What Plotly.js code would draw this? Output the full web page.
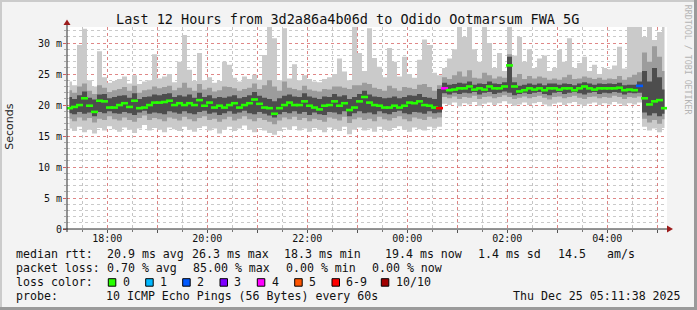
<!DOCTYPE html>
<html><head><meta charset="utf-8">
<script src="https://cdn.plot.ly/plotly-3.0.1.min.js"></script>
<style>html,body{margin:0;padding:0;background:#f3f3f3}</style>
</head><body><div id="chart" style="width:697px;height:310px"></div>
<script>
// ---- data (ms), one column every 6 minutes starting 17:14:38 ----
const startTime = Date.UTC(2025, 11, 24, 17, 14, 38);
const stepMinutes = 6;
const median = [
19.5,19.7,20.0,21.1,19.9,18.9,20.7,20.6,19.6,19.6,
20.0,20.3,19.7,20.7,19.5,19.6,20.0,20.4,20.4,20.5,
20.7,20.0,20.3,20.0,20.3,20.0,20.8,19.9,20.4,19.6,
19.9,19.6,20.0,20.3,19.6,20.0,20.3,20.9,20.2,19.6,
19.5,18.6,19.5,20.0,20.4,20.0,20.0,20.6,19.9,19.6,
19.3,19.9,20.0,20.6,19.9,20.3,19.2,19.6,20.6,21.3,
20.4,20.0,19.9,19.6,19.6,19.9,19.6,19.9,20.4,20.3,
20.6,20.0,19.9,19.6,19.5,22.7,22.4,22.5,22.7,22.7,
23.0,22.5,22.7,22.5,23.0,22.7,22.7,23.0,26.4,23.0,
22.2,22.4,22.7,22.5,22.7,22.4,22.7,22.7,22.5,22.7,
22.7,22.4,22.7,23.0,22.7,22.5,22.7,22.7,22.7,22.7,
22.8,22.4,22.5,22.4,23.1,21.1,20.1,20.6,20.8,19.5];
const lostPings = [
0,0,0,0,0,0,0,0,0,0, 0,0,0,0,0,0,0,0,0,0,
0,0,0,0,0,0,0,0,0,0, 0,0,0,0,0,0,0,0,0,0,
0,0,0,0,0,0,0,0,0,0, 0,0,0,0,0,0,0,0,0,0,
0,0,0,0,0,0,0,0,0,0, 0,0,0,0,7,4,0,0,0,0,
0,0,0,0,0,0,0,0,0,0, 0,0,0,0,0,0,0,0,0,0,
0,0,0,0,0,0,0,0,0,0, 0,0,0,0,2,0,0,0,0,0];
const pingMin = [
16.2,15.8,16.5,15.6,16.0,15.4,16.3,15.9,16.6,16.1,
15.7,16.4,16.0,15.5,16.2,16.8,15.9,16.3,16.0,15.6,
16.4,16.1,15.8,16.5,16.0,15.7,16.3,16.6,15.9,16.2,
15.4,16.0,16.5,15.8,16.2,16.7,16.0,15.6,16.3,15.9,
15.5,15.2,15.8,16.4,16.0,16.6,15.9,16.2,15.7,16.3,
16.0,15.6,16.4,16.1,15.8,16.5,15.3,16.0,16.4,15.9,
16.2,15.7,16.5,16.0,15.8,16.3,16.6,16.0,15.7,16.4,
16.1,15.9,16.5,16.2,16.5,20.2,20.0,20.4,19.8,20.3,
20.1,20.5,19.9,20.2,20.4,20.0,20.3,20.6,20.2,19.9,
20.1,20.4,20.0,20.3,20.5,20.1,19.8,20.2,20.4,20.0,
20.3,20.5,20.1,19.9,20.2,20.4,20.0,20.3,20.1,20.5,
20.2,19.9,20.3,20.1,20.4,16.5,15.9,16.2,15.6,16.3];
const pingLow = [
17.8,17.4,18.0,17.5,17.9,17.2,17.8,17.6,18.2,17.7,
17.5,18.0,17.6,17.3,17.9,18.3,17.6,17.9,17.7,17.4,
18.0,17.8,17.5,18.1,17.7,17.4,17.9,18.2,17.6,17.8,
17.3,17.7,18.1,17.5,17.8,18.2,17.7,17.4,17.9,17.6,
17.3,16.9,17.5,18.0,17.7,18.1,17.6,17.9,17.4,17.8,
17.6,17.3,18.0,17.8,17.5,18.1,17.1,17.7,18.0,17.6,
17.8,17.4,18.1,17.7,17.5,17.9,18.2,17.7,17.4,18.0,
17.8,17.6,18.1,17.8,18.0,21.3,21.1,21.4,21.0,21.3,
21.2,21.5,21.0,21.3,21.4,21.1,21.3,21.6,21.3,21.0,
21.2,21.4,21.1,21.3,21.5,21.2,20.9,21.3,21.4,21.1,
21.3,21.5,21.2,21.0,21.3,21.4,21.1,21.3,21.2,21.5,
21.3,21.0,21.3,21.2,21.4,17.8,17.2,17.6,17.0,17.7];
const pingInnerLow = [
18.7,18.5,18.9,18.6,18.8,18.2,18.9,18.7,19.0,18.7,
18.6,18.9,18.7,18.4,18.8,19.1,18.6,18.8,18.7,18.5,
19.0,18.8,18.6,19.0,18.7,18.5,18.9,19.1,18.6,18.8,
18.4,18.7,19.0,18.6,18.8,19.1,18.7,18.5,18.9,18.6,
18.3,18.0,18.5,18.9,18.7,19.0,18.6,18.9,18.4,18.8,
18.5,18.4,18.9,18.8,18.5,19.0,18.2,18.7,19.0,18.7,
18.8,18.5,19.0,18.7,18.5,18.9,19.1,18.7,18.5,18.9,
18.8,18.6,19.0,18.7,18.8,21.9,21.7,22.0,21.8,22.0,
21.9,22.1,21.7,22.0,22.1,21.8,22.0,22.2,22.0,21.6,
21.8,22.0,21.8,22.0,22.1,21.8,21.6,22.0,22.1,21.8,
22.0,22.1,21.9,21.7,22.0,22.1,21.8,22.0,21.9,22.1,
22.0,21.7,22.0,21.9,22.0,18.8,18.3,18.7,18.2,18.6];
const pingInnerHigh = [
21.3,21.0,21.6,22.2,21.2,20.9,21.7,21.8,21.1,21.3,
21.5,21.6,21.2,21.9,21.0,21.3,21.4,21.7,21.6,21.8,
21.9,21.3,21.6,21.4,21.7,21.2,22.0,21.3,21.6,21.1,
21.3,21.2,21.4,21.6,21.1,21.3,21.6,22.1,21.5,21.2,
21.0,20.6,21.1,21.5,21.7,21.4,21.3,21.9,21.4,21.2,
21.0,21.4,21.3,21.8,21.4,21.6,21.0,21.3,21.8,22.3,
21.7,21.4,21.3,21.1,21.2,21.4,21.1,21.3,21.6,21.5,
21.8,21.3,21.2,21.0,22.6,23.6,23.3,23.4,23.6,23.5,
23.8,23.3,23.5,23.4,23.8,23.5,23.4,23.7,27.8,23.7,
23.1,23.3,23.5,23.3,23.5,23.2,23.5,23.5,23.3,23.5,
23.4,23.2,23.5,23.7,23.5,23.3,23.5,23.4,23.5,23.4,
23.6,23.2,23.3,23.3,23.8,25.5,23.8,26.0,24.5,22.5];
const pingHigh = [
22.4,22.0,23.0,23.5,22.3,21.8,23.2,22.8,22.1,22.4,
22.6,22.9,22.3,23.1,22.0,22.4,22.5,23.0,22.7,22.9,
23.1,22.4,22.8,23.6,22.8,22.3,23.4,22.5,22.8,22.2,
22.4,23.0,22.9,22.7,22.3,22.6,22.8,23.5,22.6,23.2,
24.0,23.0,22.3,23.8,22.8,22.6,22.4,23.1,22.5,22.3,
22.2,22.6,22.5,23.0,23.0,22.8,22.6,23.2,23.2,23.6,
23.4,22.8,22.6,22.3,23.1,22.7,22.3,22.9,22.8,22.6,
23.3,23.4,22.9,22.3,23.2,24.5,24.2,24.8,25.4,24.6,
25.6,24.4,24.3,25.2,24.8,24.3,24.6,24.4,28.2,24.5,
25.0,24.2,24.7,24.3,24.6,24.4,24.1,24.3,24.1,24.5,
24.9,24.2,24.3,24.6,24.4,24.2,24.4,24.1,24.3,24.2,
24.7,24.1,24.5,24.9,25.3,28.5,27.0,29.5,27.8,25.5];
const pingMax = [
23.8,23.2,29.7,32.3,24.0,23.0,28.7,24.5,23.6,23.9,
24.2,24.6,23.5,24.8,23.4,23.8,24.0,28.2,24.3,24.6,
25.0,23.7,27.0,31.3,25.7,23.9,28.4,24.0,24.5,23.6,
23.9,27.0,26.5,24.4,23.8,24.6,24.2,24.9,24.1,28.1,
32.6,30.8,24.0,32.4,24.3,26.6,24.0,24.8,24.2,23.8,
23.7,24.2,24.5,25.0,27.5,25.4,24.0,32.6,28.4,25.5,
32.4,27.6,26.2,24.5,29.2,27.0,24.6,27.8,25.0,24.4,
27.3,30.6,29.7,25.2,24.8,26.0,27.5,29.0,32.6,31.0,
32.6,29.0,27.0,32.6,30.0,26.0,28.4,25.5,32.6,28.0,
31.0,27.0,29.0,26.0,27.5,28.0,25.5,26.0,28.9,27.0,
30.8,26.0,26.8,27.8,25.5,26.5,25.0,26.0,25.8,26.4,
29.4,25.9,32.6,32.6,32.6,31.0,32.6,30.5,31.8,32.6];

const yTickVals = [0,5,10,15,20,25,30];
const yTickText = ['0','5 m','10 m','15 m','20 m','25 m','30 m'];
const hourTicks = ['2025-12-24 18:00','2025-12-24 19:00','2025-12-24 20:00','2025-12-24 21:00',
  '2025-12-24 22:00','2025-12-24 23:00','2025-12-25 00:00','2025-12-25 01:00',
  '2025-12-25 02:00','2025-12-25 03:00','2025-12-25 04:00','2025-12-25 05:00'];
const hourLabels = ['18:00','','20:00','','22:00','','00:00','','02:00','','04:00',''];
const lossLabels = ['0','1','2','3','4','5','6-9','10/10'];
const lossPalette = ['#26ff00','#00b8ff','#0059ff','#7e00ff','#ff00ff','#ff5500','#ff0000','#a10000'];

// ---- helpers ----
function fmt(ms){const d=new Date(ms);const p=n=>String(n).padStart(2,'0');
  return d.getUTCFullYear()+'-'+p(d.getUTCMonth()+1)+'-'+p(d.getUTCDate())+' '+p(d.getUTCHours())+':'+p(d.getUTCMinutes())+':'+p(d.getUTCSeconds());}
const times = median.map((_,i)=>fmt(startTime + i*stepMinutes*60000));
function lossIndex(n){ if(n<=5) return n; if(n<10) return 6; return 7; }
const medColors = lostPings.map(n=>lossPalette[lossIndex(n)]);

const PX = x => (x-67)/600;
const PY = y => (229-y)/202;

function band(lo, hi, color){
  return [
    {x:times, y:lo, type:'scatter', mode:'lines', line:{width:0, shape:'hvh'}, hoverinfo:'skip'},
    {x:times, y:hi, type:'scatter', mode:'lines', line:{width:0, shape:'hvh'}, fill:'tonexty', fillcolor:color, hoverinfo:'skip'}
  ];
}
const traces = [].concat(
  band(pingMin, pingMax, '#cacaca'),
  band(pingLow, pingHigh, '#9c9c9c'),
  band(pingInnerLow, pingInnerHigh, '#4d4d4d'),
  [{x:times, y:median, type:'scatter', mode:'markers',
    marker:{symbol:'line-ew', size:5, line:{width:2.6, color:medColors}}, hoverinfo:'skip'}]
);

const mono = 'DejaVu Sans Mono';
const ann = [];
function txt(text, x, y, size, extra){
  ann.push(Object.assign({text:text, xref:'paper', yref:'paper', x:PX(x), y:PY(y),
    xanchor:'left', yanchor:'middle', showarrow:false, borderpad:0, borderwidth:0,
    font:{family:mono, size:size||11.6, color:'#111'}}, extra||{}));
}
// title
txt('Last 12 Hours from 3d2a86a4b06d to Odido Ootmarsum FWA 5G', 347.8, 19, 13.5, {xanchor:'center'});
// y title
ann.push({text:'Seconds', xref:'paper', yref:'paper', x:PX(10), y:PY(126.7), xanchor:'center', yanchor:'middle',
  textangle:-90, showarrow:false, borderpad:0, borderwidth:0, font:{family:'DejaVu Sans', size:11, color:'#222'}});
// watermark
ann.push({text:'RRDTOOL / TOBI OETIKER', xref:'paper', yref:'paper', x:PX(688.3), y:PY(60), xanchor:'center', yanchor:'middle',
  textangle:90, showarrow:false, borderpad:0, borderwidth:0, font:{family:mono, size:8.3, color:'#b4b4b4'}});
// legend rows
const r1=254, r2=268.3, r3=282.3, r4=296.3;
txt('median rtt:',15.5,r1); txt('20.9 ms avg',106.5,r1); txt('26.3 ms max',192,r1);
txt('18.3 ms min',283.5,r1); txt('19.4 ms now',384.5,r1); txt('1.4 ms sd',478,r1);
txt('14.5',557.5,r1); txt('am/s',606.5,r1);
txt('packet loss:',15.5,r2); txt('0.70 % avg',106.5,r2); txt('85.00 % max',192.5,r2);
txt('0.00 % min',285.5,r2); txt('0.00 % now',372,r2);
txt('loss color:',15.5,r3);
const boxX = [108.3,145.7,182.7,220,257.3,294.7,332,381.3];
const shapes = [];
lossLabels.forEach((lab,i)=>{
  shapes.push({type:'rect', xref:'paper', yref:'paper', x0:PX(boxX[i]), x1:PX(boxX[i]+7.5), y0:PY(286.2), y1:PY(278.7),
    fillcolor:lossPalette[i], line:{color:'#000', width:1}});
  txt(lab, boxX[i]+14.2, r3);
});
txt('probe:',15.5,r4); txt('10 ICMP Echo Pings (56 Bytes) every 60s',106,r4);
txt('Thu Dec 25 05:11:38 2025',512.5,r4);

// axes lines + arrows
shapes.push({type:'line', xref:'paper', yref:'paper', x0:PX(63), x1:PX(668), y0:PY(229), y1:PY(229), line:{color:'#2a2a2a', width:1}});
shapes.push({type:'line', xref:'paper', yref:'paper', x0:PX(67), x1:PX(67), y0:PY(232), y1:PY(24), line:{color:'#2a2a2a', width:1}});
shapes.push({type:'path', xref:'paper', yref:'paper', path:`M ${PX(667)} ${PY(225.5)} L ${PX(673)} ${PY(229)} L ${PX(667)} ${PY(232.5)} Z`, fillcolor:'#9c1c1c', line:{width:0}});
shapes.push({type:'path', xref:'paper', yref:'paper', path:`M ${PX(63.5)} ${PY(25)} L ${PX(67)} ${PY(19.5)} L ${PX(70.5)} ${PY(25)} Z`, fillcolor:'#9c1c1c', line:{width:0}});
// frame shading
shapes.push({type:'rect', xref:'paper', yref:'paper', x0:PX(0), x1:PX(697), y0:PY(0), y1:PY(2), fillcolor:'#cbcbcb', line:{width:0}});
shapes.push({type:'rect', xref:'paper', yref:'paper', x0:PX(0), x1:PX(2), y0:PY(0), y1:PY(310), fillcolor:'#cbcbcb', line:{width:0}});
shapes.push({type:'rect', xref:'paper', yref:'paper', x0:PX(694), x1:PX(697), y0:PY(0), y1:PY(310), fillcolor:'#9a9a9a', line:{width:0}});
shapes.push({type:'rect', xref:'paper', yref:'paper', x0:PX(0), x1:PX(697), y0:PY(307), y1:PY(310), fillcolor:'#9a9a9a', line:{width:0}});

const layout = {
  width:697, height:310,
  margin:{l:67, r:30, t:27, b:81, pad:0},
  paper_bgcolor:'#f3f3f3', plot_bgcolor:'#ffffff',
  showlegend:false,
  font:{family:mono, size:10, color:'#111'},
  xaxis:{type:'date', range:['2025-12-24 17:11:38','2025-12-25 05:11:38'],
    tickmode:'array', tickvals:hourTicks, ticktext:hourLabels,
    showgrid:true, gridcolor:'rgba(240,80,80,0.55)', griddash:'dot', gridwidth:1,
    ticks:'outside', ticklen:3, tickcolor:'#555', showline:false, zeroline:false,
    ticklabelstandoff:-3,
    tickfont:{family:mono, size:10, color:'#111'},
    minor:{dtick:1800000, tick0:'2025-12-24 17:30:00', showgrid:true, gridcolor:'rgba(150,150,150,0.55)', griddash:'dot', ticks:'outside', ticklen:2, tickcolor:'#777'},
    fixedrange:true},
  yaxis:{range:[0,32.6], tickmode:'array', tickvals:yTickVals, ticktext:yTickText,
    showgrid:true, gridcolor:'rgba(240,80,80,0.55)', griddash:'dot', gridwidth:1,
    ticks:'outside', ticklen:3, tickcolor:'#d06060', showline:false, zeroline:false,
    ticklabelstandoff:-1,
    tickfont:{family:mono, size:10, color:'#111'},
    minor:{dtick:1, tick0:0, showgrid:true, gridcolor:'rgba(150,150,150,0.5)', griddash:'dot', ticks:'outside', ticklen:2, tickcolor:'#aaa'},
    fixedrange:true},
  shapes:shapes, annotations:ann
};
Plotly.newPlot('chart', traces, layout, {staticPlot:true, displayModeBar:false});
</script></body></html>
